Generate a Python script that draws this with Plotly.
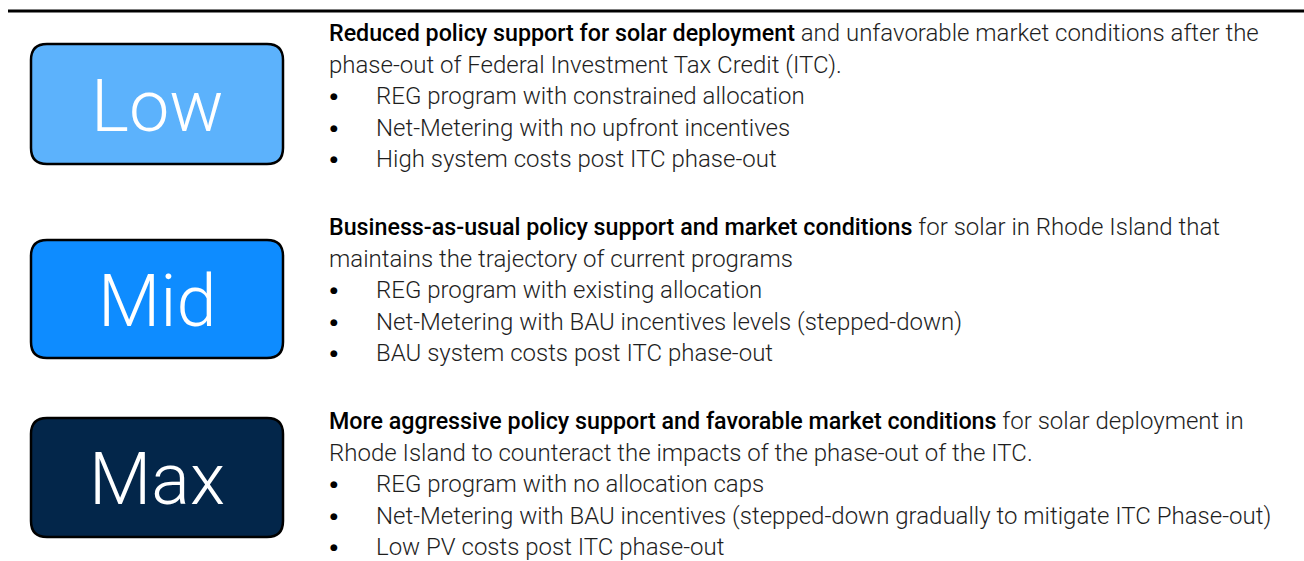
import plotly.graph_objects as go

# scenario content
scenarios = ["Low", "Mid", "Max"]
box_colors = ["#5CB2FC", "#0E8CFF", "#03264A"]
headlines = [
    "Reduced policy support for solar deployment",
    "Business-as-usual policy support and market conditions",
    "More aggressive policy support and favorable market conditions",
]
descriptions = [
    [" and unfavorable market conditions after the",
     "phase-out of Federal Investment Tax Credit (ITC)."],
    [" for solar in Rhode Island that",
     "maintains the trajectory of current programs"],
    [" for solar deployment in",
     "Rhode Island to counteract the impacts of the phase-out of the ITC."],
]
bullets = [
    ["REG program with constrained allocation",
     "Net-Metering with no upfront incentives",
     "High system costs post ITC phase-out"],
    ["REG program with existing allocation",
     "Net-Metering with BAU incentives levels (stepped-down)",
     "BAU system costs post ITC phase-out"],
    ["REG program with no allocation caps",
     "Net-Metering with BAU incentives (stepped-down gradually to mitigate ITC Phase-out)",
     "Low PV costs post ITC phase-out"],
]

W, H = 1304, 561
box_x0, box_x1 = 31, 283
box_tops = [44, 240, 418]
box_bottoms = [164, 358, 537]
text_tops = [33, 227, 421]
line_gap = 31.5
text_x = 327
bullet_x = 334
bullet_text_x = 374

FONT = "Roboto"
BODY = "#1e1e1e"


def rounded_rect(x0, y0, x1, y1, r):
    return (f"M {x0+r},{y0} L {x1-r},{y0} Q {x1},{y0} {x1},{y0+r} "
            f"L {x1},{y1-r} Q {x1},{y1} {x1-r},{y1} "
            f"L {x0+r},{y1} Q {x0},{y1} {x0},{y1-r} "
            f"L {x0},{y0+r} Q {x0},{y0} {x0+r},{y0} Z")


fig = go.Figure()
shapes = [dict(type="line", x0=8, x1=W, y0=11, y1=11,
               line=dict(color="black", width=3), layer="above")]
annotations = []

for i, name in enumerate(scenarios):
    shapes.append(dict(type="path",
                       path=rounded_rect(box_x0, box_tops[i], box_x1, box_bottoms[i], 16),
                       fillcolor=box_colors[i], line=dict(color="black", width=2.5)))
    annotations.append(dict(x=(box_x0 + box_x1) / 2, y=(box_tops[i] + box_bottoms[i]) / 2 + 2,
                            text=name, showarrow=False, xanchor="center", yanchor="middle",
                            font=dict(family=FONT, size=72, color="white", weight=300)))

    y = text_tops[i]
    # headline phrase is heavier and a touch tighter than the body text
    first = (f'<span style="font-weight:500;font-size:23.25px;color:#000">{headlines[i]}</span>'
             f'{descriptions[i][0]}')
    lines = [first, descriptions[i][1]]
    for k, t in enumerate(lines):
        annotations.append(dict(x=text_x, y=y + k * line_gap, text=t, showarrow=False,
                                xanchor="left", yanchor="middle",
                                font=dict(family=FONT, size=24, color=BODY, weight=300)))
    for k, b in enumerate(bullets[i]):
        yy = y + (k + 2) * line_gap
        annotations.append(dict(x=bullet_x, y=yy, text="●", showarrow=False,
                                xanchor="center", yanchor="middle",
                                font=dict(family="DejaVu Sans", size=9, color="black")))
        annotations.append(dict(x=bullet_text_x, y=yy, text=b, showarrow=False,
                                xanchor="left", yanchor="middle",
                                font=dict(family=FONT, size=24, color=BODY, weight=300)))

fig.update_layout(
    width=W, height=H,
    margin=dict(l=0, r=0, t=0, b=0),
    paper_bgcolor="white", plot_bgcolor="white",
    xaxis=dict(range=[0, W], visible=False, fixedrange=True),
    yaxis=dict(range=[H, 0], visible=False, fixedrange=True),
    shapes=shapes, annotations=annotations,
    showlegend=False,
)

fig.write_html("out.html", config={"displayModeBar": False},
               post_script="document.body.style.margin='0';")
